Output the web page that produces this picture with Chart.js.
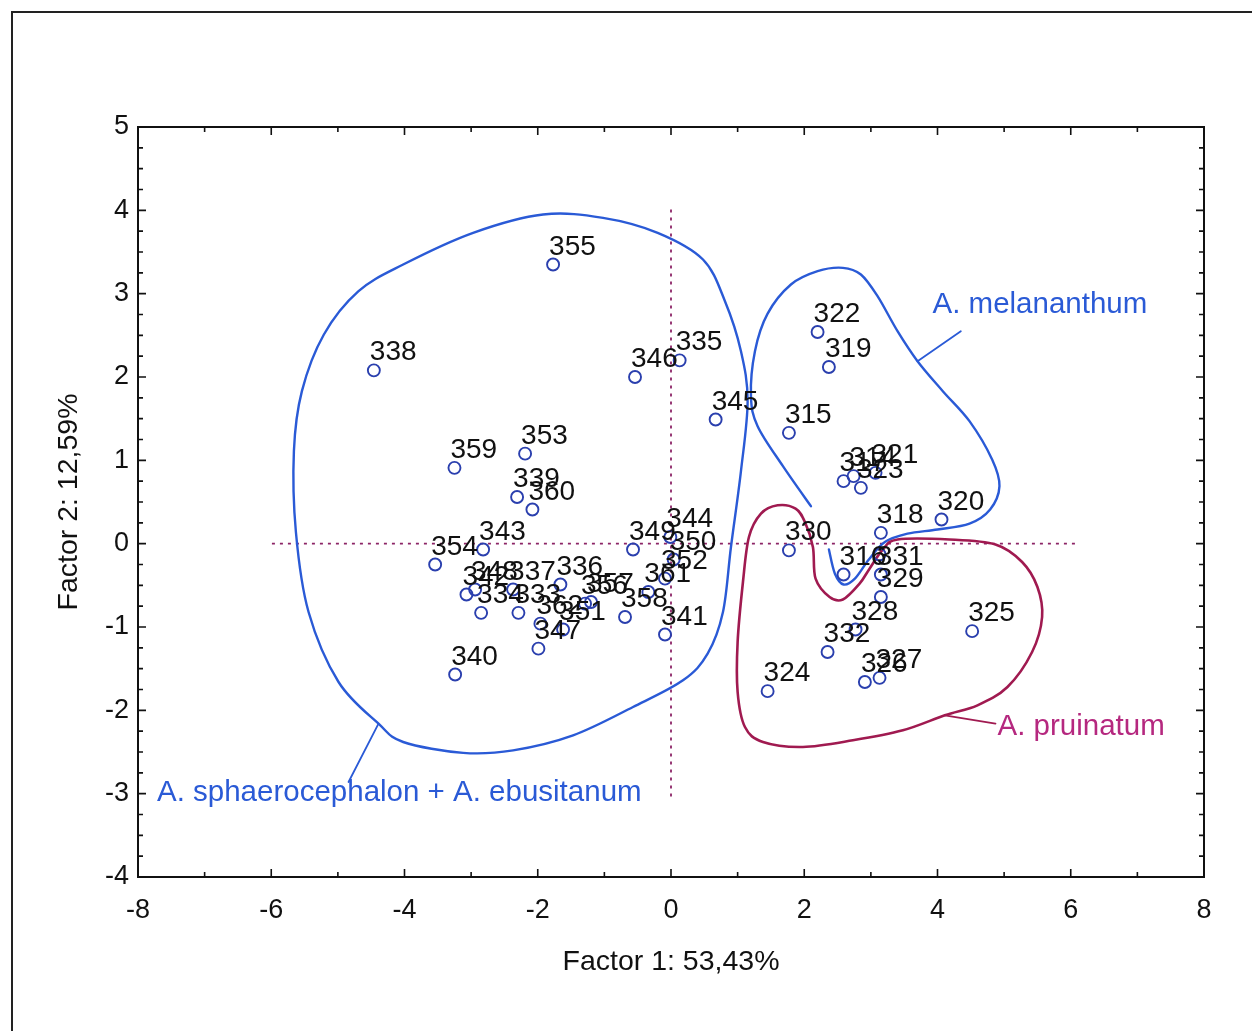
<!DOCTYPE html>
<html><head><meta charset="utf-8">
<script src="https://cdn.jsdelivr.net/npm/chart.js@4.4.0/dist/chart.umd.min.js"></script>
<style>
html,body{margin:0;padding:0;background:#fff;overflow:hidden;}
#wrap{position:relative;width:1252px;height:1031px;}
#frame{position:absolute;left:11px;top:11px;width:1260px;height:1040px;border-left:2px solid #222;border-top:2px solid #222;}
canvas{position:absolute;left:0;top:0;}
</style></head><body>
<div id="wrap"><canvas id="c" width="1252" height="1031" style="width:1252px;height:1031px"></canvas><div id="frame"></div></div>
<script>
// ---- data ----
const pointLabels = ['338','355','346','335','345','359','353','339','360','343','354','349','344','350','352','361','358','341','340','342','348','334','337','333','336','356','357','362','351','347',
  '322','319','315','317','314','323','321','318','320','330','316','','331','329','328','332','325','324','326','327'];
const factor1 = [-4.46,-1.77,-0.54,0.13,0.67,-3.25,-2.19,-2.31,-2.08,-2.82,-3.54,-0.57,-0.01,0.04,-0.09,-0.34,-0.69,-0.09,-3.24,-3.07,-2.94,-2.85,-2.37,-2.29,-1.66,-1.29,-1.20,-1.96,-1.62,-1.99,
  2.20,2.37,1.77,2.59,2.74,2.85,3.07,3.15,4.06,1.77,2.59,3.13,3.15,3.15,2.77,2.35,4.52,1.45,2.91,3.13];
const factor2 = [2.08,3.35,2.00,2.20,1.49,0.91,1.08,0.56,0.41,-0.07,-0.25,-0.07,0.08,-0.19,-0.42,-0.58,-0.88,-1.09,-1.57,-0.61,-0.55,-0.83,-0.55,-0.83,-0.49,-0.72,-0.70,-0.96,-1.03,-1.26,
  2.54,2.12,1.33,0.75,0.81,0.67,0.85,0.13,0.29,-0.08,-0.37,-0.13,-0.37,-0.64,-1.03,-1.30,-1.05,-1.77,-1.66,-1.61];

// group outlines (data units)
const sphaeroOutline = [[-1.92,3.95],[-1.02,3.91],[-0.20,3.73],[0.48,3.41],[0.81,2.91],[1.05,2.31],[1.15,1.71],[1.05,0.87],[0.90,-0.04],[0.78,-0.82],[0.55,-1.32],[0.18,-1.64],[-0.57,-1.96],[-1.47,-2.30],[-2.37,-2.48],[-3.12,-2.51],[-4.02,-2.38],[-4.39,-2.16],[-4.99,-1.66],[-5.44,-0.82],[-5.63,0.14],[-5.66,1.11],[-5.54,1.83],[-5.21,2.51],[-4.69,3.03],[-4.02,3.35],[-2.97,3.73]];
const melananthumOutline = [[2.37,-0.07],[2.46,-0.36],[2.59,-0.49],[2.76,-0.42],[2.97,-0.19],[3.21,0.02],[3.55,0.12],[4.00,0.17],[4.48,0.24],[4.79,0.41],[4.93,0.69],[4.82,1.01],[4.48,1.47],[4.08,1.83],[3.70,2.19],[3.40,2.55],[3.10,2.97],[2.85,3.23],[2.58,3.31],[2.20,3.27],[1.80,3.11],[1.45,2.76],[1.26,2.31],[1.20,1.77],[1.30,1.41],[1.68,0.93],[2.10,0.45]];
const pruinatumOutline = [[2.13,-0.04],[2.17,-0.42],[2.38,-0.64],[2.58,-0.67],[2.83,-0.48],[2.98,-0.30],[3.18,-0.07],[3.40,0.05],[4.18,0.05],[4.87,-0.01],[5.27,-0.22],[5.50,-0.52],[5.57,-0.88],[5.42,-1.30],[5.05,-1.72],[4.60,-1.94],[4.11,-2.06],[3.48,-2.24],[2.73,-2.36],[1.98,-2.44],[1.38,-2.38],[1.11,-2.20],[1.00,-1.78],[1.00,-1.18],[1.08,-0.46],[1.17,0.08],[1.35,0.36],[1.60,0.46],[1.87,0.42],[2.01,0.26]];
const sphaeroTail = [[-4.39,-2.16],[-4.84,-2.86]];
const melananthumTail = [[3.70,2.19],[4.35,2.55]];
const pruinatumTail = [[4.11,-2.06],[4.87,-2.16]];

const groupNames = ['A. sphaerocephalon + A. ebusitanum','A. melananthum','A. pruinatum'];
const groupNameX = [-7.715, 3.925, 4.90];
const groupNameY = [-2.99, 2.86, -2.20];

const crossV = [[0,4.01],[0,-3.06]];
const crossH = [[-5.99,0],[6.07,0]];

const xTitle = 'Factor 1: 53,43%';
const yTitle = 'Factor 2: 12,59%';

// ---- styles ----
const FONT = "'Liberation Sans', Arial, Helvetica, sans-serif";
const BLUE = '#2a5ad6';
const MAROON = '#a01a50';
const MAGENTA = '#b5287f';
const DASH = '#8c2466';
const POINT = '#2a3fae';

function toPx(chart, p){ return [chart.scales.x.getPixelForValue(p[0]), chart.scales.y.getPixelForValue(p[1])]; }
function spline(ctx, pts, closed){
  const n = pts.length;
  ctx.beginPath();
  ctx.moveTo(pts[0][0], pts[0][1]);
  const segs = closed ? n : n-1;
  for (let i=0;i<segs;i++){
    const p0 = pts[closed ? (i-1+n)%n : Math.max(i-1,0)];
    const p1 = pts[i];
    const p2 = pts[(i+1)%n];
    const p3 = pts[closed ? (i+2)%n : Math.min(i+2,n-1)];
    const c1 = [p1[0]+(p2[0]-p0[0])/6, p1[1]+(p2[1]-p0[1])/6];
    const c2 = [p2[0]-(p3[0]-p1[0])/6, p2[1]-(p3[1]-p1[1])/6];
    ctx.bezierCurveTo(c1[0],c1[1],c2[0],c2[1],p2[0],p2[1]);
  }
  if (closed) ctx.closePath();
}

const decor = {
  id:'decor',
  beforeDatasetsDraw(chart){
    const ctx = chart.ctx;
    ctx.save();
    ctx.strokeStyle = DASH; ctx.lineWidth = 1.8; ctx.setLineDash([3,5]);
    [crossV, crossH].forEach(l=>{
      const p = l.map(q=>toPx(chart,q));
      ctx.beginPath(); ctx.moveTo(p[0][0],p[0][1]); ctx.lineTo(p[1][0],p[1][1]); ctx.stroke();
    });
    ctx.setLineDash([]);
    ctx.lineWidth = 2.4; ctx.lineJoin='round'; ctx.lineCap='round';
    ctx.strokeStyle = BLUE;
    spline(ctx, sphaeroOutline.map(q=>toPx(chart,q)), true); ctx.stroke();
    spline(ctx, melananthumOutline.map(q=>toPx(chart,q)), false); ctx.stroke();
    ctx.lineWidth = 1.8;
    [sphaeroTail, melananthumTail].forEach(l=>{
      const p = l.map(q=>toPx(chart,q));
      ctx.beginPath(); ctx.moveTo(p[0][0],p[0][1]); ctx.lineTo(p[1][0],p[1][1]); ctx.stroke();
    });
    ctx.strokeStyle = MAROON; ctx.lineWidth = 2.6;
    spline(ctx, pruinatumOutline.map(q=>toPx(chart,q)), true); ctx.stroke();
    ctx.lineWidth = 1.8;
    { const p = pruinatumTail.map(q=>toPx(chart,q));
      ctx.beginPath(); ctx.moveTo(p[0][0],p[0][1]); ctx.lineTo(p[1][0],p[1][1]); ctx.stroke(); }
    ctx.restore();
  },
  afterDatasetsDraw(chart){
    const ctx = chart.ctx, a = chart.chartArea;
    const xs = chart.scales.x, ys = chart.scales.y;
    ctx.save();
    ctx.strokeStyle = '#111'; ctx.lineWidth = 2;
    ctx.strokeRect(a.left, a.top, a.right-a.left, a.bottom-a.top);
    ctx.lineWidth = 1.6;
    ctx.beginPath();
    for (let v=xs.min; v<=xs.max+1e-9; v+=1){
      const x = xs.getPixelForValue(v);
      const L = (Math.round(v)%2===0) ? 8 : 5;
      ctx.moveTo(x,a.bottom); ctx.lineTo(x,a.bottom-L);
      ctx.moveTo(x,a.top); ctx.lineTo(x,a.top+L);
    }
    for (let v=ys.min; v<=ys.max+1e-9; v+=0.25){
      const y = ys.getPixelForValue(v);
      const L = (Math.abs(v-Math.round(v))<1e-6) ? 8 : 5;
      ctx.moveTo(a.left,y); ctx.lineTo(a.left+L,y);
      ctx.moveTo(a.right,y); ctx.lineTo(a.right-L,y);
    }
    ctx.stroke();
    const meta = chart.getDatasetMeta(0);
    ctx.fillStyle = '#111'; ctx.font = '28px ' + FONT;
    ctx.textAlign = 'left'; ctx.textBaseline = 'alphabetic';
    meta.data.forEach((el,i)=>{
      const t = pointLabels[i];
      if (t) ctx.fillText(t, el.x - 4, el.y - 10);
    });
    ctx.font = '29.5px ' + FONT; ctx.textBaseline = 'middle';
    const cols = [BLUE, BLUE, MAGENTA];
    groupNames.forEach((g,i)=>{
      ctx.fillStyle = cols[i];
      ctx.fillText(g, xs.getPixelForValue(groupNameX[i]), ys.getPixelForValue(groupNameY[i]));
    });
    ctx.restore();
  }
};

const pts = factor1.map((x,i)=>({x, y: factor2[i]}));

new Chart(document.getElementById('c'), {
  type: 'scatter',
  data: { datasets: [{
    data: pts,
    pointStyle: 'circle', pointRadius: 6, pointHoverRadius: 6,
    borderColor: POINT, backgroundColor: 'rgba(255,255,255,0)', borderWidth: 1.9
  }]},
  options: {
    responsive: false, animation: false, devicePixelRatio: 1,
    layout: { padding: { left: 0, right: 48, top: 127, bottom: 0 } },
    plugins: { legend: { display: false }, tooltip: { enabled: false } },
    events: [],
    scales: {
      x: {
        type: 'linear', min: -8, max: 8,
        ticks: { stepSize: 2, font: { size: 27, family: FONT }, color: '#111', padding: 17, maxRotation: 0 },
        grid: { display: false, drawTicks: false }, border: { display: false },
        title: { display: true, text: xTitle, font: { size: 28.5, family: FONT }, color: '#111', padding: { top: 0, bottom: 52 } },
        afterFit: s => { s.height = 154; }
      },
      y: {
        type: 'linear', min: -4, max: 5,
        ticks: { stepSize: 1, font: { size: 27, family: FONT }, color: '#111', padding: 9 },
        grid: { display: false, drawTicks: false }, border: { display: false },
        title: { display: true, text: yTitle, font: { size: 28.5, family: FONT }, color: '#111', padding: { top: 52, bottom: 0 } },
        afterFit: s => { s.width = 138; }
      }
    }
  },
  plugins: [decor]
});
</script>
</body></html>
